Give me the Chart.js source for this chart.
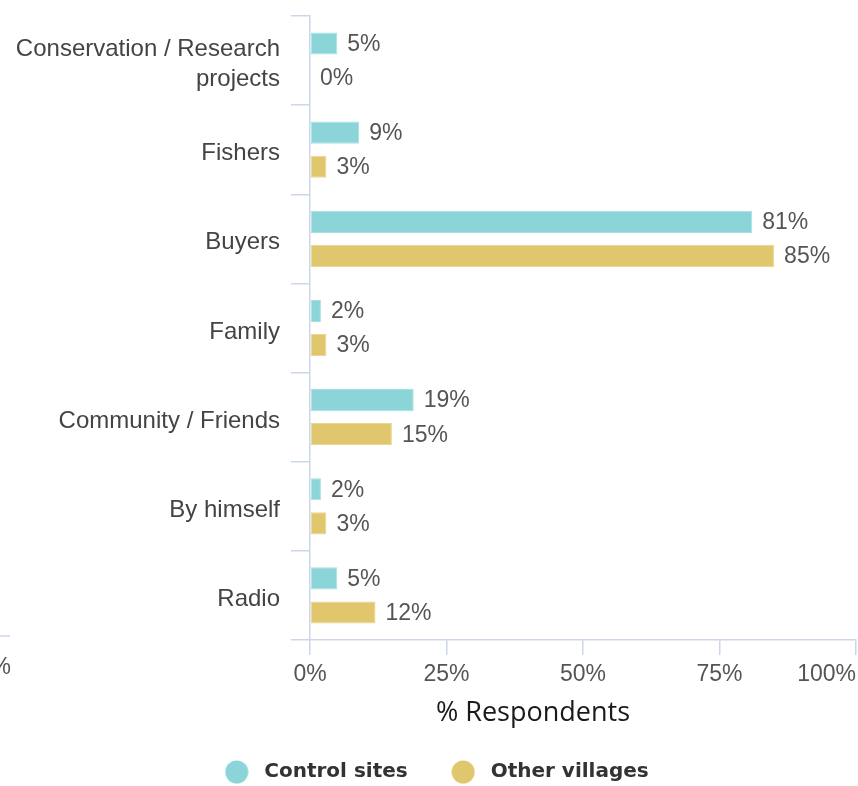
<!DOCTYPE html>
<html lang="en">
<head>
    <meta charset="UTF-8">
    <title>Sources of information - % Respondents</title>
    <script src="https://cdn.jsdelivr.net/npm/chart.js"></script>
    <style>
        html, body { margin: 0; padding: 0; overflow: hidden; background: #fff; }
    </style>
</head>
<body>

<canvas id="chart" width="858" height="792"></canvas>

<script>
    // Chart data
    const categories = [
        ['Conservation / Research', 'projects'],
        'Fishers',
        'Buyers',
        'Family',
        'Community / Friends',
        'By himself',
        'Radio'
    ];
    const controlSites = [5, 9, 81, 2, 19, 2, 5];
    const otherVillages = [0, 3, 85, 3, 15, 3, 12];
    const xTicks = [0, 25, 50, 75, 100];
    const seriesNames = ['Control sites', 'Other villages'];
    const seriesColors = ['#8bd5d9', '#e0c76d'];
    const axisTitle = '% Respondents';

    const lineColor = '#ccd6eb';
    const labelFont = '"Liberation Sans", Arial, sans-serif';

    // round legend markers drawn on small canvases
    function makeDot(color) {
        const c = document.createElement('canvas');
        c.width = 24;
        c.height = 24;
        const g = c.getContext('2d');
        g.fillStyle = color;
        g.beginPath();
        g.arc(12, 12, 11.5, 0, Math.PI * 2);
        g.fill();
        return c;
    }
    const dots = seriesColors.map(makeDot);

    // value labels at the end of each bar
    const valueLabels = {
        id: 'valueLabels',
        afterDatasetsDraw(chart) {
            const ctx = chart.ctx;
            ctx.save();
            ctx.font = '23px ' + labelFont;
            ctx.fillStyle = '#555555';
            ctx.textAlign = 'left';
            ctx.textBaseline = 'middle';
            chart.data.datasets.forEach((ds, i) => {
                chart.getDatasetMeta(i).data.forEach((bar, j) => {
                    ctx.fillText(ds.data[j] + '%', bar.x + 10, bar.y + 1);
                });
            });
            ctx.restore();
        }
    };

    // small tweaks to tick label placement:
    // category labels sit a bit below the band centre, "0%" is centred on its tick
    const labelShift = {
        id: 'labelShift',
        afterLayout(chart) {
            const y = chart.scales.y;
            const x = chart.scales.x;
            if (y._shifted) return;
            const origY = y._computeLabelItems.bind(y);
            y._computeLabelItems = function (area) {
                return origY(area).map(item => Object.assign({}, item, { textOffset: item.textOffset + 4 }));
            };
            const origX = x._computeLabelItems.bind(x);
            x._computeLabelItems = function (area) {
                return origX(area).map((item, i) => {
                    if (i !== 0) return item;
                    const opts = Object.assign({}, item.options, { textAlign: 'center' });
                    return Object.assign({}, item, { options: opts });
                });
            };
            y._shifted = true;
        }
    };

    // axis title and the cut off piece of the neighbouring chart
    const extras = {
        id: 'extras',
        afterDraw(chart) {
            const ctx = chart.ctx;
            const area = chart.chartArea;
            ctx.save();
            ctx.font = '27px "Open Sans", sans-serif';
            ctx.fillStyle = '#1a1a1a';
            ctx.textAlign = 'center';
            ctx.textBaseline = 'middle';
            ctx.fillText(axisTitle, 533, area.bottom + 73);

            ctx.font = '23px ' + labelFont;
            ctx.fillStyle = '#555555';
            ctx.textAlign = 'right';
            ctx.fillText('0%', 11, area.bottom + 28);
            ctx.strokeStyle = lineColor;
            ctx.lineWidth = 1.5;
            ctx.beginPath();
            ctx.moveTo(0, area.bottom - 4);
            ctx.lineTo(10, area.bottom - 4);
            ctx.stroke();
            ctx.restore();
        }
    };

    const ctx = document.getElementById('chart').getContext('2d');
    const chart = new Chart(ctx, {
        type: 'bar',
        data: {
            labels: categories,
            datasets: [
                {
                    label: seriesNames[0],
                    data: controlSites,
                    backgroundColor: seriesColors[0],
                    borderColor: '#a6e0e3',
                    borderWidth: 1,
                    borderSkipped: false
                },
                {
                    label: seriesNames[1],
                    data: otherVillages,
                    backgroundColor: seriesColors[1],
                    borderColor: '#ead68f',
                    borderWidth: 1,
                    borderSkipped: false
                }
            ]
        },
        options: {
            indexAxis: 'y',
            responsive: false,
            animation: false,
            categoryPercentage: 0.764,
            barPercentage: 0.65,
            layout: { padding: { top: 16, right: 2, left: 12, bottom: 0 } },
            plugins: {
                tooltip: { enabled: false },
                legend: {
                    position: 'bottom',
                    labels: {
                        usePointStyle: true,
                        pointStyleWidth: 35,
                        boxHeight: 16,
                        padding: 38,
                        color: '#333333',
                        font: { family: '"DejaVu Sans", sans-serif', size: 20, weight: 'bold' },
                        generateLabels(chart) {
                            const items = Chart.defaults.plugins.legend.labels.generateLabels(chart);
                            items.forEach((it, i) => { it.pointStyle = dots[i]; });
                            return items;
                        }
                    }
                }
            },
            scales: {
                x: {
                    min: 0,
                    max: 100,
                    afterBuildTicks(scale) {
                        scale.ticks = xTicks.map(v => ({ value: v }));
                    },
                    afterFit(scale) {
                        scale.height = 84;
                        scale.paddingLeft = 0;
                        scale.paddingRight = 0;
                    },
                    grid: {
                        drawOnChartArea: false,
                        drawTicks: true,
                        tickLength: 15,
                        color: lineColor,
                        lineWidth: 1.5
                    },
                    border: { color: lineColor, width: 1.5 },
                    ticks: {
                        align: 'inner',
                        padding: 6,
                        color: '#555555',
                        font: { family: labelFont, size: 23 },
                        callback: v => v + '%'
                    }
                },
                y: {
                    afterFit(scale) {
                        scale.width = 298;
                        scale.paddingTop = 0;
                        scale.paddingBottom = 0;
                    },
                    grid: {
                        drawOnChartArea: false,
                        drawTicks: true,
                        tickLength: 19,
                        offset: true,
                        color: lineColor,
                        lineWidth: 1.5
                    },
                    border: { color: lineColor, width: 1.5 },
                    ticks: {
                        padding: 11,
                        color: '#444444',
                        font: { family: labelFont, size: 24, lineHeight: 1.25 }
                    }
                }
            }
        },
        plugins: [labelShift, valueLabels, extras]
    });
</script>

</body>
</html>
